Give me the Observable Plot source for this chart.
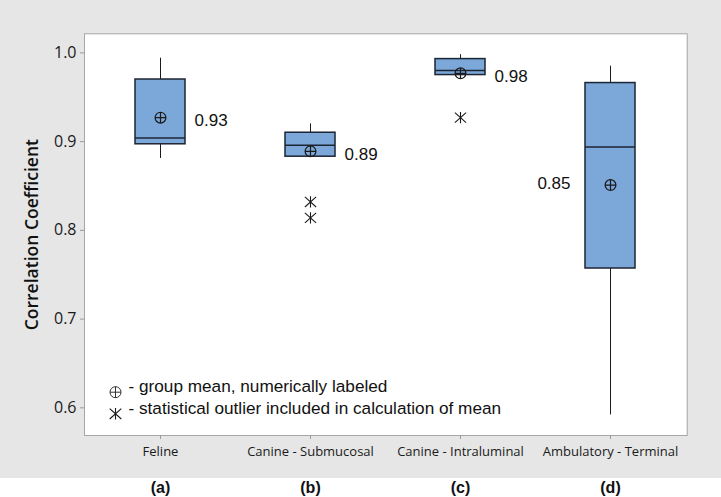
<!DOCTYPE html>
<html><head><meta charset="utf-8">
<script src="https://cdn.jsdelivr.net/npm/d3@7"></script>
<script src="https://cdn.jsdelivr.net/npm/@observablehq/plot@0.6"></script>
<style>body{margin:0;background:#fff}#chart{width:721px;height:497px}</style>
</head><body><div id="chart"></div>
<script>
const categories = ["Feline", "Canine - Submucosal", "Canine - Intraluminal", "Ambulatory - Terminal"];
const panelLetters = ["(a)", "(b)", "(c)", "(d)"];
const whiskerLow = [0.881, 0.883, 0.975, 0.592];
const q1 = [0.897, 0.883, 0.975, 0.757];
const median = [0.904, 0.896, 0.980, 0.894];
const q3 = [0.970, 0.910, 0.993, 0.966];
const whiskerHigh = [0.994, 0.920, 0.998, 0.985];
const means = [0.927, 0.889, 0.977, 0.851];
const meanLabels = ["0.93", "0.89", "0.98", "0.85"];
const outlierGroups = ["Canine - Submucosal", "Canine - Submucosal", "Canine - Intraluminal"];
const outlierValues = [0.832, 0.814, 0.927];
const yTicks = [0.6, 0.7, 0.8, 0.9, 1.0];
const yAxisTitle = "Correlation Coefficient";
const legendLabels = ["- group mean, numerically labeled", "- statistical outlier included in calculation of mean"];

const rows = categories.map((c, i) => ({cat: c, lo: whiskerLow[i], q1: q1[i], med: median[i], q3: q3[i], hi: whiskerHigh[i], mean: means[i], label: meanLabels[i]}));
const outliers = outlierGroups.map((c, i) => ({cat: c, v: outlierValues[i]}));

const circlePlus = {draw(ctx, size) {
  const r = Math.sqrt(size / Math.PI);
  ctx.moveTo(r, 0); ctx.arc(0, 0, r, 0, 2 * Math.PI);
  ctx.moveTo(-r, 0); ctx.lineTo(r, 0);
  ctx.moveTo(0, -r); ctx.lineTo(0, r);
}};
const star6 = {draw(ctx, size) {
  const r = Math.sqrt(size / Math.PI);
  ctx.moveTo(0, -r); ctx.lineTo(0, r);
  ctx.moveTo(-r, -0.9 * r); ctx.lineTo(r, 0.9 * r);
  ctx.moveTo(-r, 0.9 * r); ctx.lineTo(r, -0.9 * r);
}};

const ink = "#1a1a1a";
const boxStroke = "#1c2533";
const serif = "Liberation Sans, Arial, sans-serif";

const chart = Plot.plot({
  width: 721, height: 497,
  marginTop: 33.3, marginBottom: 62, marginLeft: 84, marginRight: 34.3,
  style: {background: "linear-gradient(#e6e6e6 0px, #e6e6e6 478px, #ffffff 478px)", fontFamily: "Open Sans, sans-serif", overflow: "visible"},
  x: {type: "band", domain: categories, paddingInner: 0.668, paddingOuter: 0.334, label: null},
  y: {domain: [0.5688, 1.0215], label: null},
  marks: [
    Plot.frame({fill: "white", stroke: "#a6a6a6"}),
    Plot.axisY({ticks: yTicks, tickSize: 4, tickPadding: 4, tickFormat: d => d.toFixed(1), fontSize: 16, fontWeight: 500, stroke: "#999", fill: "#1a1a1a", label: null}),
    Plot.axisX({tickSize: 4, tickPadding: 7, fontSize: 13, stroke: "#999", fill: "#1a1a1a", label: null}),
    Plot.axisX({tickSize: 0, tickPadding: 46, tickFormat: d => panelLetters[categories.indexOf(d)], fontSize: 16, fontWeight: "bold", fontFamily: serif, fill: "#111", label: null}),
    Plot.text([yAxisTitle], {frameAnchor: "left", textAnchor: "middle", rotate: -90, dx: -52, fontSize: 17.5, fontWeight: 600, fill: "#111"}),
    Plot.ruleX(rows, {x: "cat", y1: "q3", y2: "hi", stroke: ink, strokeWidth: 1}),
    Plot.ruleX(rows, {x: "cat", y1: "lo", y2: "q1", stroke: ink, strokeWidth: 1}),
    Plot.barY(rows, {x: "cat", y1: "q1", y2: "q3", fill: "#7ba7d9", stroke: boxStroke, strokeWidth: 1.5}),
    Plot.tickY(rows, {x: "cat", y: "med", stroke: boxStroke, strokeWidth: 1.5}),
    Plot.dot(rows, {x: "cat", y: "mean", symbol: circlePlus, r: 5.4, fill: "none", stroke: ink, strokeWidth: 1.2}),
    Plot.dot(outliers, {x: "cat", y: "v", symbol: star6, r: 5.6, fill: "none", stroke: ink, strokeWidth: 1.1}),
    Plot.text(rows.slice(0, 3), {x: "cat", y: "mean", text: "label", textAnchor: "start", dx: 34, dy: 3, fontSize: 17, fontFamily: serif, fill: "#111"}),
    Plot.text(rows.slice(3), {x: "cat", y: "mean", text: "label", textAnchor: "end", dx: -40, dy: -2, fontSize: 17, fontFamily: serif, fill: "#111"}),
    Plot.dot([legendLabels[0]], {frameAnchor: "bottom-left", dx: 31, dy: -43.3, symbol: circlePlus, r: 5.5, fill: "none", stroke: "#333", strokeWidth: 1}),
    Plot.dot([legendLabels[1]], {frameAnchor: "bottom-left", dx: 31, dy: -21.7, symbol: star6, r: 5.8, fill: "none", stroke: ink, strokeWidth: 1.1}),
    Plot.text([legendLabels[0]], {frameAnchor: "bottom-left", text: d => d, textAnchor: "start", dx: 44, dy: -43.5, fontSize: 17.2, fontFamily: serif, fill: "#111"}),
    Plot.text([legendLabels[1]], {frameAnchor: "bottom-left", text: d => d, textAnchor: "start", dx: 44, dy: -21.7, fontSize: 17.2, fontFamily: serif, fill: "#111"})
  ]
});
document.getElementById("chart").append(chart);
</script>
</body></html>
